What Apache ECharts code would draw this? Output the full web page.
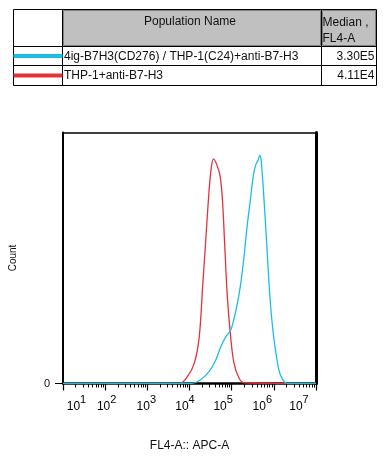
<!DOCTYPE html>
<html><head><meta charset="utf-8">
<script src="https://cdn.jsdelivr.net/npm/echarts@6/dist/echarts.min.js"></script>
<style>html,body{margin:0;padding:0;background:#fff}#c{width:384px;height:457px}</style>
</head><body><div id="c"></div>
<script>
// ---------- data ----------
const populationNames = ['4ig-B7H3(CD276) / THP-1(C24)+anti-B7-H3', 'THP-1+anti-B7-H3'];
const medianValues = ['3.30E5', '4.11E4'];
const tableHeaders = ['Population Name', 'Median ,', 'FL4-A'];
const xTickExponents = [1, 2, 3, 4, 5, 6, 7];
const yTickValues = [0];
const yTickLabels = ['0'];
// log10(FL4-A) positions and counts (percent of axis max)
const blueLogX = [1, 4.035, 4.271, 4.467, 4.624, 4.741, 4.859, 4.976, 5.055, 5.133, 5.212, 5.290, 5.369, 5.447, 5.525, 5.588, 5.620, 5.667, 5.698, 5.761, 5.824, 5.878, 5.933, 5.996, 6.075, 6.153, 6.271, 6.349, 7];
const blueCount = [0, 0, 1.6, 4.8, 9.4, 14.6, 18.6, 21.2, 25.8, 31.7, 39.5, 50, 63, 73.5, 84, 87.9, 88.6, 90.9, 89.2, 74.8, 57.8, 42.1, 29, 18.6, 9.4, 3.5, 0.3, 0, 0];
const redLogX = [1, 3.761, 3.957, 4.114, 4.231, 4.310, 4.388, 4.467, 4.522, 4.569, 4.647, 4.725, 4.780, 4.835, 4.898, 4.976, 5.055, 5.173, 5.290, 7];
const redCount = [0, 0, 2.9, 8.1, 18.6, 38.2, 57.8, 77.4, 86.6, 89.5, 87.2, 82.7, 73.5, 55.2, 34.3, 18.6, 8.1, 2.2, 0.3, 0];

// ---------- style ----------
const FONT = '"Liberation Sans", Arial, sans-serif';
const BLUE = '#1cbde3';
const RED = '#e2323a';
const LABEL_SHIFT = [13.5, 1.5, -1, -4.5, -8.5, -11.5, -17];

const minorTicks = [];
for (let d = 1; d < 7; d++) for (let k = 2; k <= 9; k++) minorTicks.push(d + Math.log10(k));

const rich = {
  b: { fontSize: 12, fontFamily: FONT, color: '#000', padding: [7, 0, 0, 0] },
  s: { fontSize: 11, fontFamily: FONT, color: '#000', padding: [0, 0, 7, 0] }
};
LABEL_SHIFT.forEach((s, i) => { rich['g' + i] = { width: Math.abs(s) * 2, fontSize: 12 }; });

function xLabel(v) {
  const i = xTickExponents.indexOf(Math.round(v));
  if (i < 0) return '';
  const s = LABEL_SHIFT[i];
  const core = '{b|10}{s|' + xTickExponents[i] + '}';
  if (s > 0) return '{g' + i + '| }' + core;
  if (s < 0) return core + '{g' + i + '| }';
  return core;
}

const T = { l: 13.5, r: 376.5, t: 9.5, hb: 46.5, r1: 65.5, b: 85.5, c1: 62.5, c2: 321.5 };
const txt = { fontFamily: FONT, fontSize: 12, fill: '#111' };
const graphic = [
  { type: 'rect', shape: { x: T.c1 + 1, y: T.t + 1, width: T.c2 - T.c1 - 2, height: T.hb - T.t - 2 }, style: { fill: '#c0c0c0', stroke: '#808080', lineWidth: 1 } },
  { type: 'rect', shape: { x: T.c2 + 1, y: T.t + 1, width: T.r - T.c2 - 2, height: T.hb - T.t - 2 }, style: { fill: '#c0c0c0', stroke: '#808080', lineWidth: 1 } },
  { type: 'rect', shape: { x: T.l, y: T.t, width: T.r - T.l, height: T.b - T.t }, style: { fill: 'none', stroke: '#000', lineWidth: 1 } },
  { type: 'line', shape: { x1: T.l, y1: T.hb, x2: T.r, y2: T.hb }, style: { stroke: '#000', lineWidth: 1 } },
  { type: 'line', shape: { x1: T.l, y1: T.r1, x2: T.r, y2: T.r1 }, style: { stroke: '#000', lineWidth: 1 } },
  { type: 'line', shape: { x1: T.c1, y1: T.t, x2: T.c1, y2: T.b }, style: { stroke: '#000', lineWidth: 1 } },
  { type: 'line', shape: { x1: T.c2, y1: T.t, x2: T.c2, y2: T.b }, style: { stroke: '#000', lineWidth: 1 } },
  { type: 'text', x: (T.c1 + T.c2) / 2 - 2, y: 22, style: Object.assign({ text: tableHeaders[0], align: 'center', verticalAlign: 'middle' }, txt) },
  { type: 'text', x: T.c2 + 1, y: 23, style: Object.assign({ text: tableHeaders[1], align: 'left', verticalAlign: 'middle' }, txt) },
  { type: 'text', x: T.c2 + 1, y: 39, style: Object.assign({ text: tableHeaders[2], align: 'left', verticalAlign: 'middle' }, txt) }
];
const rowY = [56.5, 76];
const rowColors = [BLUE, RED];
populationNames.forEach((n, i) => {
  graphic.push({ type: 'line', shape: { x1: T.l, y1: rowY[i] - 0.5, x2: T.c1, y2: rowY[i] - 0.5 }, style: { stroke: rowColors[i], lineWidth: 4 } });
  graphic.push({ type: 'text', x: T.c1 + 1.5, y: rowY[i], style: Object.assign({ text: n, align: 'left', verticalAlign: 'middle' }, txt) });
  graphic.push({ type: 'text', x: T.r - 2, y: rowY[i], style: Object.assign({ text: medianValues[i], align: 'right', verticalAlign: 'middle' }, txt) });
});

const chart = echarts.init(document.getElementById('c'), null, { renderer: 'canvas' });
chart.setOption({
  animation: false,
  backgroundColor: '#fff',
  grid: { left: 61, right: 68, top: 132.5, bottom: 70.5, containLabel: false },
  graphic: graphic,
  xAxis: [
    {
      type: 'value', min: 1, max: 7, interval: 1, position: 'bottom', offset: 1.5,
      axisLine: { show: true, lineStyle: { color: '#000', width: 2.5 } },
      axisTick: { show: true, length: 7, lineStyle: { color: '#000', width: 1.2 } },
      axisLabel: { show: true, margin: 9, formatter: xLabel, rich: rich, showMinLabel: true, showMaxLabel: true },
      splitLine: { show: false },
      name: 'FL4-A:: APC-A', nameLocation: 'middle', nameGap: 55,
      nameTextStyle: { fontFamily: FONT, fontSize: 12, color: '#111' }
    },
    {
      type: 'value', min: 1, max: 7, position: 'bottom', offset: 1.5,
      axisLine: { show: false },
      axisTick: { show: true, length: 4, customValues: minorTicks, lineStyle: { color: '#000', width: 1 } },
      axisLabel: { show: false }, splitLine: { show: false }
    },
    {
      type: 'value', min: 1, max: 7, position: 'top',
      axisLine: { show: true, lineStyle: { color: '#000', width: 1.5 } },
      axisTick: { show: false }, axisLabel: { show: false }, splitLine: { show: false }
    }
  ],
  yAxis: [
    {
      type: 'value', min: 0, max: 100, position: 'left',
      axisLine: { show: true, lineStyle: { color: '#000', width: 2 } },
      axisTick: { show: true, length: 8, customValues: yTickValues, lineStyle: { color: '#000', width: 1 } },
      axisLabel: { show: true, customValues: yTickValues, margin: 13, formatter: (v) => yTickLabels[yTickValues.indexOf(v)] || '', fontFamily: FONT, fontSize: 11, color: '#111' },
      splitLine: { show: false },
      name: 'Count', nameLocation: 'middle', nameGap: 45, nameRotate: 90,
      nameTextStyle: { fontFamily: FONT, fontSize: 10, color: '#111' }
    },
    {
      type: 'value', min: 0, max: 100, position: 'right',
      axisLine: { show: true, lineStyle: { color: '#000', width: 3 } },
      axisTick: { show: false }, axisLabel: { show: false }, splitLine: { show: false }
    }
  ],
  series: [
    {
      name: populationNames[1], type: 'line', xAxisIndex: 0, yAxisIndex: 0,
      data: redLogX.map((x, i) => [x, redCount[i]]),
      smooth: 0.35, showSymbol: false, lineStyle: { color: RED, width: 1.3 }, z: 3
    },
    {
      name: populationNames[0], type: 'line', xAxisIndex: 0, yAxisIndex: 0,
      data: blueLogX.map((x, i) => [x, blueCount[i]]),
      smooth: 0.35, showSymbol: false, lineStyle: { color: BLUE, width: 1.3 }, z: 4
    }
  ]
});
</script></body></html>
